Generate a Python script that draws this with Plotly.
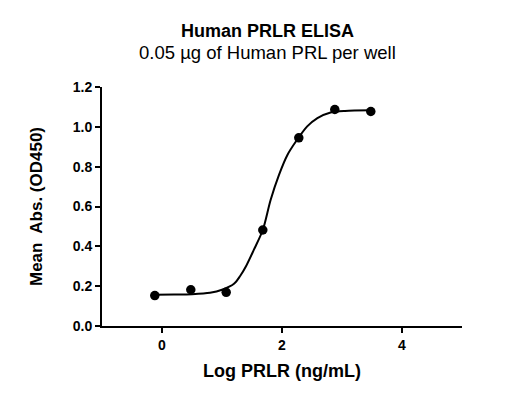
import plotly.graph_objects as go

# measured points
log_conc = [-0.12, 0.48, 1.07, 1.68, 2.28, 2.88, 3.48]
mean_abs = [0.153, 0.182, 0.169, 0.482, 0.945, 1.087, 1.077]

# fitted curve
curve_x = [-0.12, 0.2, 0.5, 0.8, 1.0, 1.2, 1.3, 1.4, 1.53, 1.68, 1.81, 1.95, 2.09, 2.24, 2.42, 2.59, 2.81, 3.05, 3.48]
curve_y = [0.157, 0.158, 0.160, 0.167, 0.182, 0.212, 0.25, 0.30, 0.382, 0.482, 0.633, 0.759, 0.859, 0.930, 1.002, 1.044, 1.072, 1.080, 1.083]

x_ticks = [0, 2, 4]
y_ticks = [0.0, 0.2, 0.4, 0.6, 0.8, 1.0, 1.2]

FONT = "Liberation Sans, Arial, sans-serif"

fig = go.Figure()

fig.add_trace(go.Scatter(
    x=curve_x, y=curve_y, mode="lines",
    line=dict(color="black", width=2, shape="spline", smoothing=0.8),
    hoverinfo="skip",
))
fig.add_trace(go.Scatter(
    x=log_conc, y=mean_abs, mode="markers",
    marker=dict(color="black", size=9.5),
))

axis_common = dict(
    showgrid=False, zeroline=False,
    showline=True, linecolor="black", linewidth=2,
    ticks="outside", ticklen=5, tickwidth=2, tickcolor="black",
    tickfont=dict(family=FONT, size=14, color="black", weight="bold"),
)

fig.update_xaxes(
    range=[-1, 5], tickvals=x_ticks,
    title=dict(text="<b>Log PRLR (ng/mL)</b>", font=dict(family=FONT, size=18, color="black"), standoff=13),
    **axis_common,
)
fig.update_yaxes(
    range=[0, 1.2], tickvals=y_ticks, tickformat=".1f",
    title=dict(text="<b>Mean  Abs. (OD450)</b>", font=dict(family=FONT, size=17, color="black"), standoff=26),
    **axis_common,
)

fig.update_layout(
    width=515, height=400,
    margin=dict(l=94, r=61, t=79, b=82),
    paper_bgcolor="white", plot_bgcolor="white",
    showlegend=False,
    annotations=[
        dict(text="<b>Human PRLR ELISA</b>", xref="paper", yref="paper",
             x=0.459, y=1.236, xanchor="center", yanchor="middle", showarrow=False,
             font=dict(family=FONT, size=18, color="black")),
        dict(text="0.05 µg of Human PRL per well", xref="paper", yref="paper",
             x=0.459, y=1.145, xanchor="center", yanchor="middle", showarrow=False,
             font=dict(family=FONT, size=18.5, color="black")),
    ],
)

fig.write_html("out.html")
